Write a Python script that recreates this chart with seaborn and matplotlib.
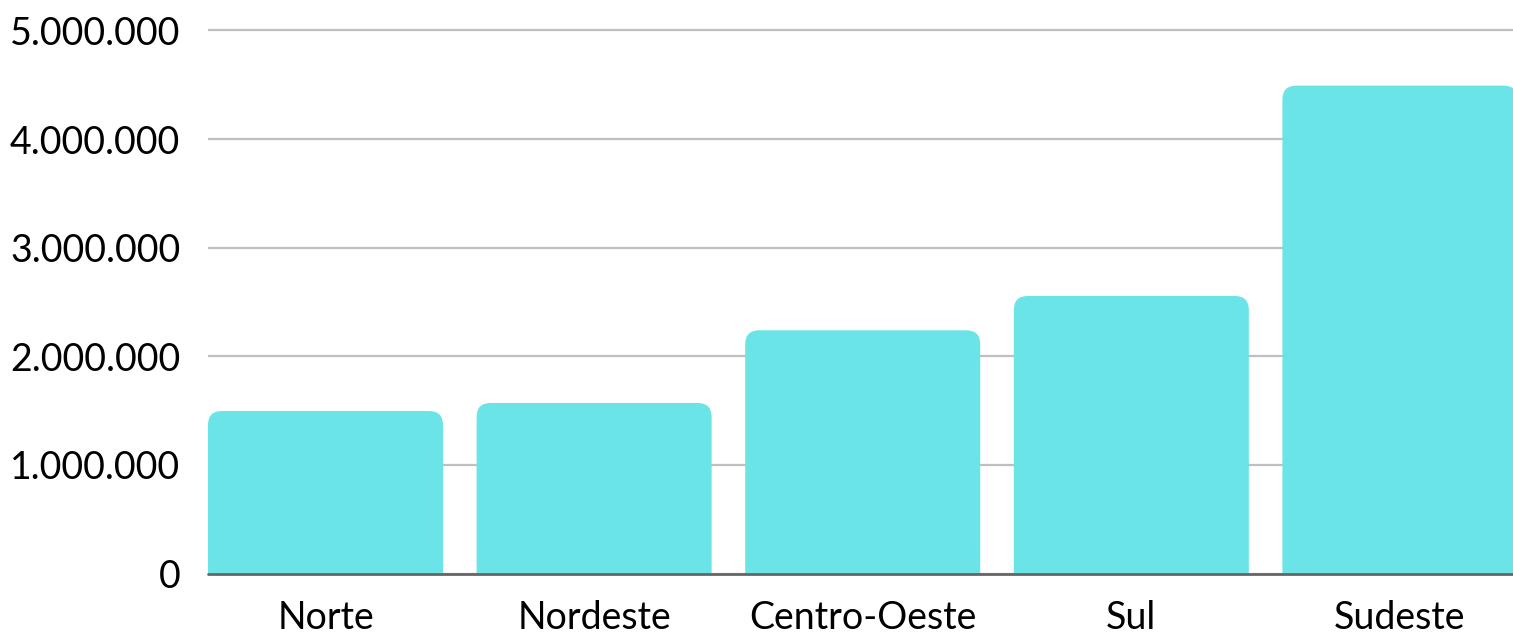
import matplotlib
matplotlib.use("Agg")
import matplotlib.pyplot as plt
import seaborn as sns
import pandas as pd
from matplotlib.patches import FancyBboxPatch
from matplotlib.transforms import IdentityTransform
from matplotlib.ticker import FuncFormatter

regioes = ["Norte", "Nordeste", "Centro-Oeste", "Sul", "Sudeste"]
valores = [1496000, 1570000, 2239000, 2555000, 4492000]
y_ticks = [0, 1000000, 2000000, 3000000, 4000000, 5000000]

df = pd.DataFrame({"Região": regioes, "Valor": valores})

sns.set_style("white")
plt.rcParams['font.family'] = ['Lato', 'DejaVu Sans']

W, H = 1513, 633
fig = plt.figure(figsize=(W / 100, H / 100), dpi=100)
ax = fig.add_axes([208 / W, (H - 573.5) / H, (W - 208) / W, 573.5 / H])

cor = "#6AE4E7"
sns.barplot(data=df, x="Região", y="Valor", color=cor, saturation=1,
            width=0.875, ax=ax, zorder=2)

ax.set_xlim(-0.4375, 4.421)
ax.set_ylim(0, 5.28e6)
ax.set_yticks(y_ticks)
ax.yaxis.set_major_formatter(FuncFormatter(lambda v, p: f"{int(v):,}".replace(",", ".")))
ax.set_xlabel("")
ax.set_ylabel("")

ax.grid(axis="y", color="#BFBFBF", linewidth=1.6, zorder=0)
ax.set_axisbelow(True)
for s in ax.spines.values():
    s.set_visible(False)
ax.axhline(0, color="#666666", linewidth=2, zorder=5, clip_on=False)

ax.tick_params(axis="both", length=0, labelsize=27, colors="black")
ax.tick_params(axis="y", pad=20)
ax.tick_params(axis="x", pad=19)

# cantos arredondados no topo das barras
fig.canvas.draw()
r = 14
for p in list(ax.patches):
    bb = p.get_window_extent()
    novo = FancyBboxPatch((bb.x0, bb.y0 - r), bb.width, bb.height + r,
                          boxstyle=f"round,pad=0,rounding_size={r}",
                          transform=IdentityTransform(), facecolor=cor,
                          edgecolor="none", zorder=2)
    ax.add_patch(novo)
    p.set_visible(False)

fig.savefig("out.png", dpi=100)
